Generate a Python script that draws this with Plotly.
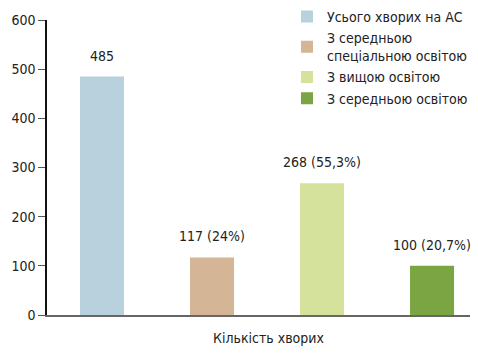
import plotly.graph_objects as go

categories = ["Усього хворих на АС", "З середньою<br>спеціальною освітою", "З вищою освітою", "З середньою освітою"]
values = [485, 117, 268, 100]
labels = ["485", "117 (24%)", "268 (55,3%)", "100 (20,7%)"]
colors = ["#b9d1dc", "#d4b595", "#d4e29c", "#7aa542"]
yticks = [0, 100, 200, 300, 400, 500, 600]

FONT = "DejaVu Sans Condensed, Liberation Sans Narrow, sans-serif"
FS = 14

fig = go.Figure()
for i, (name, v, c) in enumerate(zip(categories, values, colors)):
    fig.add_trace(go.Bar(
        x=[i], y=[v], name=name, marker=dict(color=c, line=dict(width=0)),
        width=0.4,
    ))

annotations = [dict(x=i, y=v, xref="x", yref="y", text=lab, showarrow=False,
                    yanchor="bottom", yshift=11, font=dict(size=FS, family=FONT, color="#222"))
               for i, (v, lab) in enumerate(zip(values, labels))]
annotations.append(dict(text="Кількість хворих", x=(268 - 47) / 423, xref="paper",
                        y=-23 / 295, yref="paper", yanchor="middle",
                        showarrow=False, font=dict(size=FS, family=FONT, color="#222")))

fig.update_layout(
    width=478, height=354,
    margin=dict(l=47, r=8, t=20, b=39, autoexpand=False),
    plot_bgcolor="white", paper_bgcolor="white",
    font=dict(family=FONT, size=FS, color="#222"),
    showlegend=True,
    legend=dict(x=(287 - 47) / 423, y=1.065, xanchor="left", yanchor="top",
                bgcolor="rgba(0,0,0,0)", font=dict(size=FS, family=FONT, color="#222"),
                tracegroupgap=0, itemsizing="constant"),
    xaxis=dict(range=[-0.5, 3.345], showticklabels=False, ticks="", automargin=False,
               showline=True, linecolor="#666", linewidth=2, showgrid=False, zeroline=False),
    yaxis=dict(range=[0, 600], tickvals=yticks, ticks="outside", ticklen=7, tickcolor="#555",
               automargin=False,
               showline=True, linecolor="#111", linewidth=1.5, showgrid=False, zeroline=False,
               tickfont=dict(size=FS, family=FONT, color="#222")),
    annotations=annotations,
)

fig.write_html("out.html")
